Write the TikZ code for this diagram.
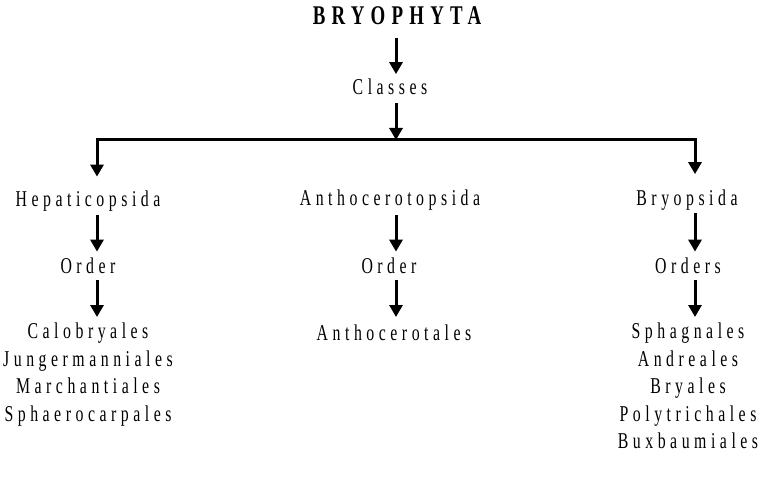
\documentclass[tikz,border=0pt]{standalone}
\usepackage{fontspec}
\usetikzlibrary{arrows.meta}
\newfontfamily\dfont[FakeStretch=0.7,LetterSpace=20]{Liberation Serif}
\newfontfamily\tfont[FakeStretch=0.7,LetterSpace=23]{Liberation Serif}
\begin{document}
\begin{tikzpicture}[x=1pt,y=-1pt,
  lbl/.style={inner sep=0pt,font=\dfont\fontsize{22.6}{27.5}\selectfont,align=center,anchor=base},
  ttl/.style={inner sep=0pt,font=\tfont\bfseries\fontsize{27}{30}\selectfont,anchor=base},
  arr/.style={line width=3pt,-{Triangle[length=12pt,width=13pt]}}]
\useasboundingbox (0,0) rectangle (768,484);
\coordinate (cL) at (97,0);
\coordinate (cM) at (396,0);
\coordinate (cR) at (695,0);
\coordinate (junc) at (396,140);
\node[ttl] (bry) at (397,25) {BRYOPHYTA};
\node[lbl] (cls) at (390,95) {Classes};
\node[lbl] (hep) at (88,206) {Hepaticopsida};
\node[lbl] (ant) at (390,205) {Anthocerotopsida};
\node[lbl] (bryo) at (687,205) {Bryopsida};
\node[lbl] (ordL) at (88,273) {Order};
\node[lbl] (ordM) at (389,273) {Order};
\node[lbl] (ordR) at (688,273) {Orders};
\node[lbl,anchor=north] (lstL) at (88,323) {Calobryales\\Jungermanniales\\Marchantiales\\Sphaerocarpales};
\node[lbl,anchor=north] (lstM) at (394,325) {Anthocerotales};
\node[lbl,anchor=north] (lstR) at (688,323) {Sphagnales\\Andreales\\Bryales\\Polytrichales\\Buxbaumiales};
\draw[arr,shorten <=13pt,shorten >=5pt] (bry.south -| cM) -- (cls.north -| cM);
\draw[arr,shorten <=8pt] (cls.south -| cM) -- (junc);
\draw[arr,shorten >=13.5pt] (junc) -| (hep.north -| cL);
\draw[arr,shorten >=15pt] (junc) -| (bryo.north -| cR);
\draw[arr,shorten <=4pt,shorten >=5.5pt] (hep.south -| cL) -- (ordL.north -| cL);
\draw[arr,shorten <=7pt,shorten >=6pt] (ordL.south -| cL) -- (lstL.north -| cL);
\draw[arr,shorten <=5pt,shorten >=5.5pt] (ant.south -| cM) -- (ordM.north -| cM);
\draw[arr,shorten <=7pt,shorten >=8pt] (ordM.south -| cM) -- (lstM.north -| cM);
\draw[arr,shorten <=3pt,shorten >=5.5pt] (bryo.south -| cR) -- (ordR.north -| cR);
\draw[arr,shorten <=7pt,shorten >=6pt] (ordR.south -| cR) -- (lstR.north -| cR);
\end{tikzpicture}
\end{document}
